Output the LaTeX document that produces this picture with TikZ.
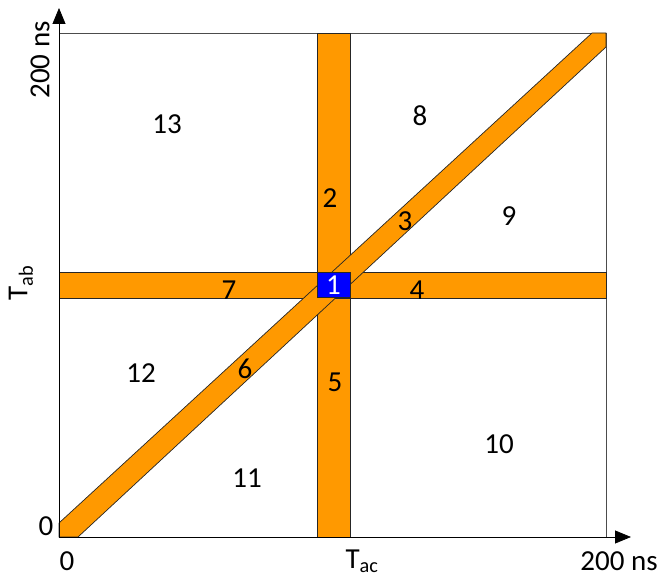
\documentclass[tikz,border=0pt]{standalone}
\usepackage{fontspec}
\setmainfont{Carlito}
\usepackage{xcolor}
\usetikzlibrary{arrows.meta,positioning}
\definecolor{laranja}{HTML}{FF9900}
\definecolor{azul}{HTML}{0000FF}
\tikzset{
    faixa/.style={
        draw=black!85,
        fill=laranja,
        line width=0.7pt
    },
    caixa/.style={draw=black!70, line width=0.7pt},
    rotulo/.style={font=\fontsize{29}{32}\selectfont, inner sep=0pt},
    eixo/.style={-{Triangle[length=16pt,width=13pt]}, line width=0.8pt},
    destaque/.style={fill=azul, draw=black!85, line width=0.7pt}
}

\begin{document}
\begin{tikzpicture}[x=1pt, y=-1pt]
    \useasboundingbox (0,0) rectangle (657,578);
    % canto e cantos da area
    \coordinate (origem) at (59,537);
    \coordinate (topoesq) at (59,33);
    \coordinate (topodir) at (606,33);
    \coordinate (basedir) at (606,537);
    \coordinate (fimy) at (59,8);
    \coordinate (fimx) at (631,537);
    \draw[caixa] (topoesq) -- (topodir) -- (basedir);
    % faixas
    \draw[faixa] (317,33) rectangle (350,537);
    \draw[faixa] (59,272) rectangle (606,298);
    \draw[faixa] (59,537) -- (78,537) -- (606,47) -- (606,33)
        -- (592,33) -- (59,523) -- cycle;
    \node[destaque, minimum width=33pt, minimum height=25pt,
          inner sep=0pt, text=white, font=\fontsize{29}{32}\selectfont]
        (r1) at (333.5,285) {1};
    % eixos
    \draw[eixo] (origem) -- (fimy);
    \draw[eixo] (origem) -- (fimx);
    % regioes
    \node[rotulo] (r2) at (330,198) {2};
    \node[rotulo] (r3) at (405,221) {3};
    \node[rotulo] (r4) at (417,290) {4};
    \node[rotulo] (r5) at (335,382) {5};
    \node[rotulo] (r6) at (245,369) {6};
    \node[rotulo] (r7) at (229,290) {7};
    \node[rotulo] (r8) at (420,116) {8};
    \node[rotulo] (r9) at (509,216) {9};
    \node[rotulo] (r10) at (499,444) {10};
    \node[rotulo] (r11) at (247,478) {11};
    \node[rotulo] (r12) at (141,373) {12};
    \node[rotulo] (r13) at (167,124) {13};
    % rotulos dos eixos
    \node[rotulo] (zeroy) at (46,526) {0};
    \node[rotulo] (zerox) at (67,561) {0};
    \node[rotulo] (maxx) at (619,561) {200 ns};
    \node[rotulo, rotate=90] (maxy) at (40,60) {200 ns};
    \node[rotulo] (tac) at (362,561) {T\textsubscript{ac}};
    \node[rotulo, rotate=90] (tab) at (21,283) {T\textsubscript{ab}};
\end{tikzpicture}
\end{document}
